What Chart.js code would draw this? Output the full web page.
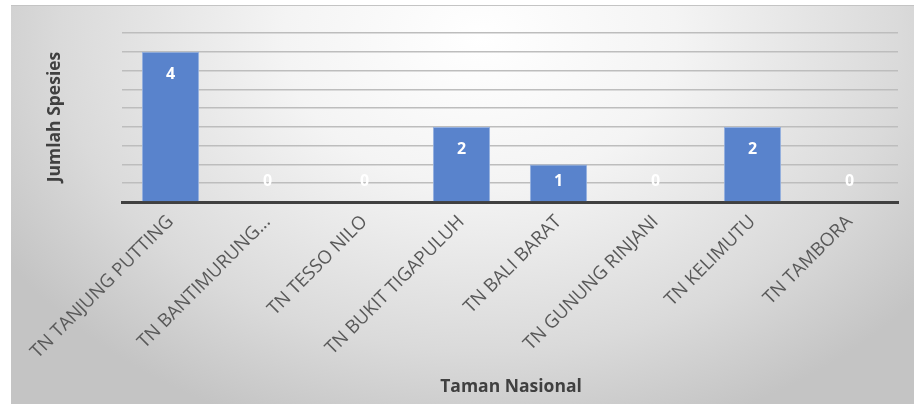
<!DOCTYPE html>
<html>
<head>
<meta charset="utf-8">
<script src="https://cdn.jsdelivr.net/npm/chart.js@4.4.1/dist/chart.umd.min.js"></script>
<style>
  html, body { margin: 0; padding: 0; background: #ffffff; width: 914px; height: 404px; overflow: hidden; }
  #box {
    position: absolute; left: 11px; top: 5px; width: 903px; height: 399px;
    background: radial-gradient(ellipse 62% 105% at 52% 8%, #ffffff 0%, #f4f4f4 35%, #dadada 75%, #c4c4c4 100%);
    border-top: 1px solid #c4c4c4;
    box-sizing: border-box;
  }
  canvas { display: block; }
</style>
</head>
<body>
<div id="box"><canvas id="c" width="903" height="398"></canvas></div>
<script>
const categories = ["TN TANJUNG PUTTING", "TN BANTIMURUNG...", "TN TESSO NILO", "TN BUKIT TIGAPULUH", "TN BALI BARAT", "TN GUNUNG RINJANI", "TN KELIMUTU", "TN TAMBORA"];
const values = [4, 0, 0, 2, 1, 0, 2, 0];
const yTitle = "Jumlah Spesies";
const xTitle = "Taman Nasional";

const FONT = "'Open Sans', 'DejaVu Sans', sans-serif";

const labelsPlugin = {
  id: 'labelsPlugin',
  afterDatasetsDraw(chart) {
    const ctx = chart.ctx;
    const meta = chart.getDatasetMeta(0);
    const base = chart.scales.y.getPixelForValue(0);
    ctx.save();
    ctx.fillStyle = '#ffffff';
    ctx.font = "bold 16px " + FONT;
    ctx.textAlign = 'center';
    ctx.textBaseline = 'middle';
    meta.data.forEach((bar, i) => {
      const y = Math.min(bar.y + 23, base - 21);
      ctx.fillText(String(values[i]), bar.x, y);
    });
    ctx.restore();
  },
  afterDraw(chart) {
    const ctx = chart.ctx;
    ctx.save();
    ctx.fillStyle = '#404040';
    ctx.font = "bold 17.5px " + FONT;
    ctx.textAlign = 'center';
    ctx.textBaseline = 'middle';
    ctx.translate(44, 111);
    ctx.rotate(-Math.PI / 2);
    ctx.fillText(yTitle, 0, 0);
    ctx.restore();
    ctx.save();
    ctx.fillStyle = '#404040';
    ctx.font = "bold 17.5px " + FONT;
    ctx.textAlign = 'center';
    ctx.textBaseline = 'middle';
    ctx.fillText(xTitle, 500, 381);
    ctx.restore();
  }
};

new Chart(document.getElementById('c'), {
  type: 'bar',
  data: {
    labels: categories,
    datasets: [{
      data: values,
      backgroundColor: '#5983CC',
      borderColor: '#94B0E0',
      borderWidth: 1,
      categoryPercentage: 1,
      barPercentage: 0.59
    }]
  },
  options: {
    responsive: false,
    animation: false,
    devicePixelRatio: 1,
    layout: { padding: { top: 27, right: 16, left: 0, bottom: 0 } },
    plugins: { legend: { display: false }, tooltip: { enabled: false } },
    scales: {
      x: {
        afterFit(s) { s.height = 202; },
        grid: { display: false, drawTicks: false },
        border: { display: true, color: '#404040', width: 3 },
        ticks: {
          autoSkip: false,
          maxRotation: 45, minRotation: 45,
          padding: 9,
          color: '#595959',
          font: { family: FONT, size: 18.5 }
        }
      },
      y: {
        min: 0, max: 4.5,
        afterFit(s) { s.width = 111; },
        border: { display: false },
        grid: { color: '#bdbdbd', lineWidth: 1.5, drawTicks: false },
        ticks: { display: false, stepSize: 0.5 }
      }
    }
  },
  plugins: [labelsPlugin]
});
</script>
</body>
</html>
